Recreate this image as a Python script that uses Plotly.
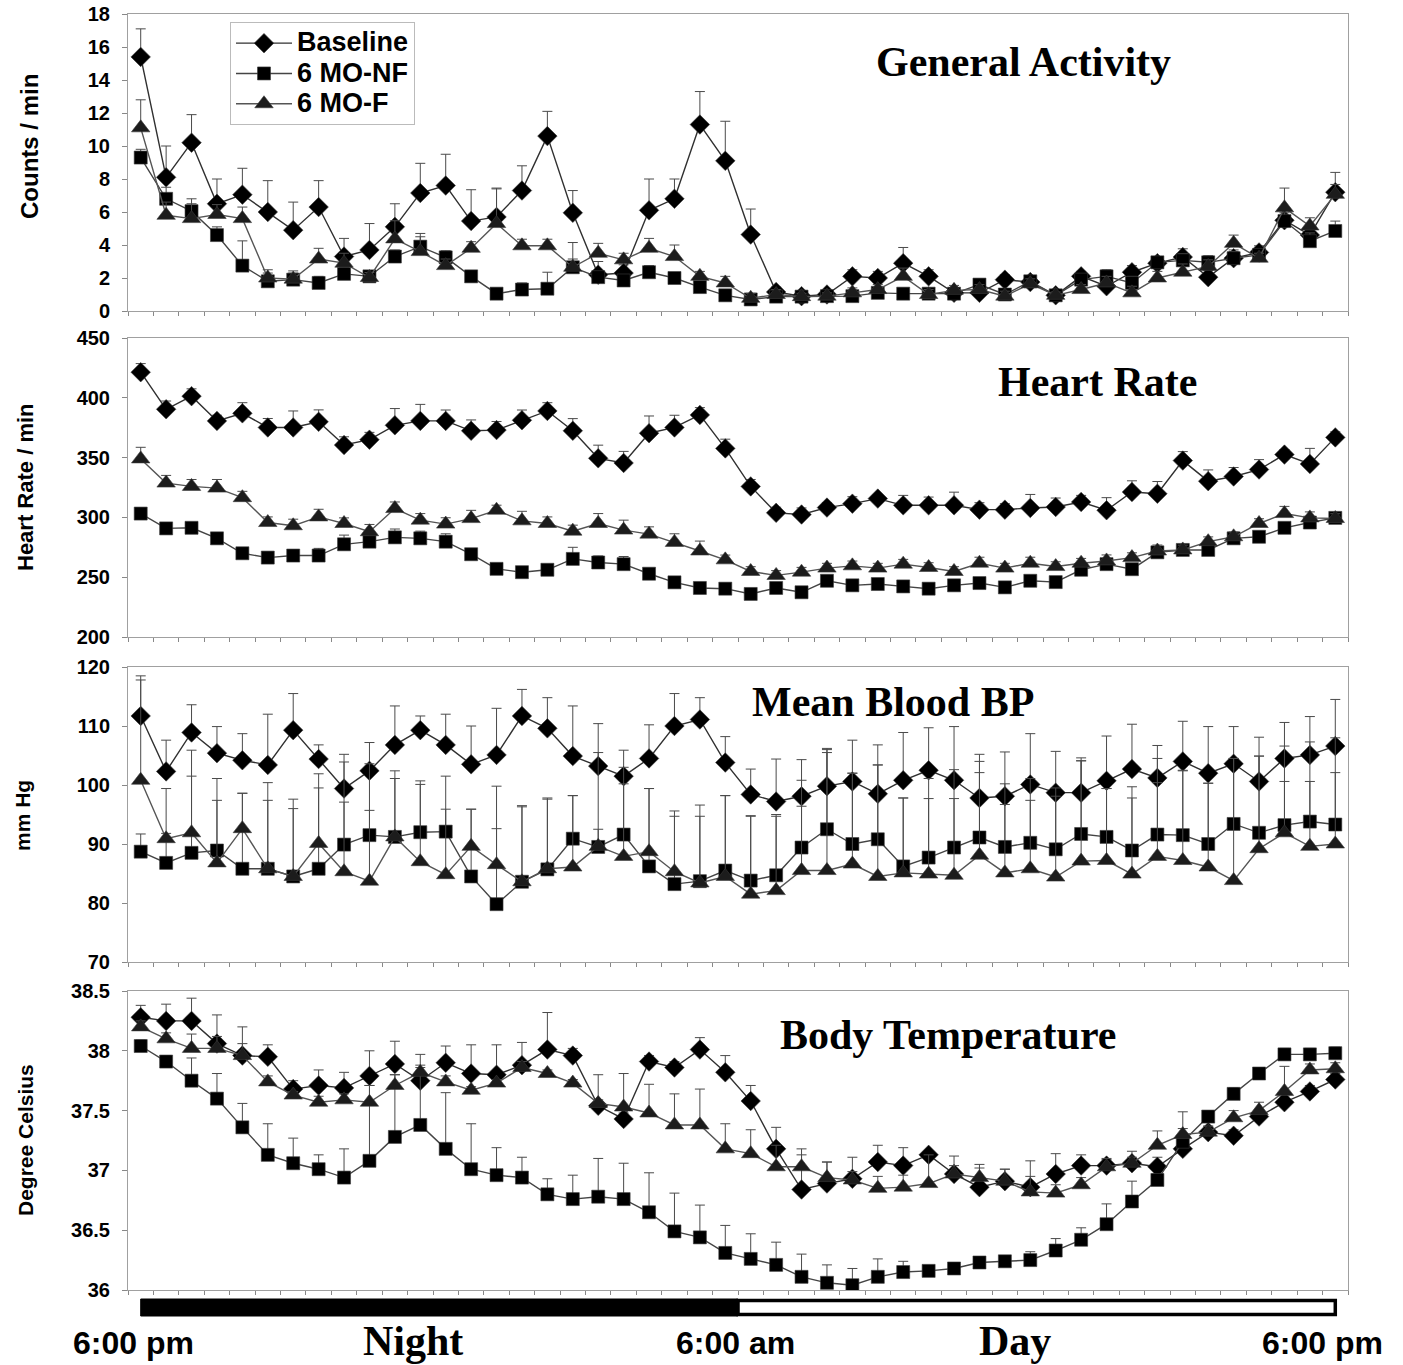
import plotly.graph_objects as go

# ---------------- data (48 half-hour samples, 6:00 pm -> 6:00 pm) ----------------
series_names = ["Baseline", "6 MO-NF", "6 MO-F"]
slot_index = list(range(48))

ga_base = [15.4, 8.1, 10.2, 6.5, 7.05, 6.0, 4.9, 6.3, 3.3, 3.7, 5.1, 7.15, 7.6, 5.45, 5.7, 7.3,
           10.6, 5.95, 2.2, 2.3, 6.1, 6.8, 11.3, 9.1, 4.63, 1.15, 0.9, 1.0, 2.1, 2.0, 2.9, 2.1,
           1.1, 1.1, 1.9, 1.75, 0.95, 2.1, 1.5, 2.35, 2.9, 3.27, 2.05, 3.2, 3.55, 5.5, 4.6, 7.2]
ga_base_err = [1.7, 1.9, 1.7, 1.5, 1.6, 1.9, 1.7, 1.6, 1.1, 1.6, 1.4, 1.8, 1.9, 1.9, 1.75, 1.5,
               1.5, 1.35, 0.8, 0.5, 1.9, 1.2, 2.0, 2.4, 1.55, 0.3, 0.2, 0.2, 0.4, 0.4, 0.95, 0.4,
               0.3, 0.3, 0.3, 0.2, 0.2, 0.3, 0.4, 0.4, 0.3, 0.5, 0.4, 0.5, 0.4, 0.6, 0.6, 1.2]
ga_nf = [9.3, 6.8, 6.05, 4.6, 2.75, 1.8, 1.9, 1.7, 2.25, 2.1, 3.3, 3.9, 3.25, 2.1, 1.05, 1.3,
         1.35, 2.65, 2.05, 1.85, 2.35, 2.0, 1.45, 0.95, 0.7, 0.87, 0.87, 0.9, 0.9, 1.1, 1.05, 1.05,
         1.05, 1.6, 1.0, 1.8, 0.95, 1.9, 2.1, 1.7, 2.95, 3.07, 2.95, 3.2, 3.4, 5.45, 4.23, 4.85]
ga_nf_err = [0.5, 0.7, 0.75, 0.5, 1.5, 0.5, 0.4, 0.4, 0.4, 0.3, 0.4, 0.8, 0.4, 0.3, 0.3, 0.4,
             1.0, 0.5, 0.3, 0.3, 0.4, 0.3, 0.3, 0.3, 0.2, 0.2, 0.2, 0.2, 0.2, 0.2, 0.2, 0.2,
             0.2, 0.3, 0.2, 0.3, 0.2, 0.3, 0.4, 0.4, 0.3, 0.4, 0.4, 0.4, 0.3, 0.5, 0.5, 0.6]
ga_f = [11.1, 5.8, 5.6, 5.85, 5.6, 2.0, 1.93, 3.15, 2.9, 2.03, 4.37, 3.6, 2.75, 3.8, 5.3, 3.95,
        3.95, 2.65, 3.5, 3.1, 3.8, 3.3, 2.1, 1.7, 0.77, 1.0, 0.87, 0.9, 1.1, 1.3, 2.1, 1.0,
        1.25, 1.3, 0.9, 1.65, 0.95, 1.3, 1.7, 1.1, 2.0, 2.35, 2.7, 4.1, 3.2, 6.25, 5.15, 7.07]
ga_f_err = [1.7, 0.8, 0.9, 0.6, 0.7, 0.5, 0.5, 0.65, 0.6, 0.3, 1.1, 0.9, 0.4, 0.4, 2.1, 0.4,
            0.4, 1.5, 0.6, 0.4, 0.6, 0.7, 0.3, 0.4, 0.3, 0.3, 0.2, 0.2, 0.3, 0.3, 0.5, 0.3,
            0.3, 0.3, 0.3, 0.3, 0.2, 0.3, 0.4, 0.4, 0.4, 0.5, 0.4, 0.5, 0.3, 1.2, 0.5, 0.6]

hr_base = [421.4, 390.4, 401.4, 380.7, 387, 375.2, 375.2, 379.9, 360.5, 365, 377, 380.7, 380.7,
           372.4, 373, 381.2, 389, 372.4, 349.4, 345.5, 370.4, 375.2, 385.7, 357.7, 325.9, 303.8,
           302.4, 308.2, 311.5, 315.7, 310.1, 310.1, 310.1, 306.5, 306.5, 307.9, 308.7, 312.9,
           306, 321.2, 319.8, 347.5, 330.3, 334.2, 340, 352.5, 344.7, 366.9]
hr_base_err = [7.2, 6.9, 6.1, 4.7, 8.9, 7.5, 13.8, 10, 6.9, 6.1, 14, 13.8, 9.1, 9.1, 7.2, 8.6,
               6.9, 10.2, 11, 9.7, 14.4, 10.2, 6.1, 7.7, 5.8, 4.7, 5.5, 4.2, 5.8, 3.3, 8.3, 6.9,
               11, 5.8, 5, 11.3, 7.5, 5.5, 10.5, 9.4, 10.2, 7.5, 9.4, 7.5, 8.3, 4.2, 13, 4.7]
hr_nf = [303.2, 290.8, 291.3, 282.5, 270, 266.4, 268.1, 268.1, 277.5, 279.7, 283.3, 282.5, 279.7,
         269.2, 257, 254.2, 256.2, 265.3, 262.3, 260.9, 252.9, 245.7, 241, 240.4, 236, 241,
         237.4, 247, 243.2, 244.3, 242.3, 240.4, 243.2, 245.1, 241.5, 247, 245.9, 256.2, 260.9,
         256.7, 270.8, 272.8, 272.8, 282.5, 283.8, 291.3, 295.7, 299.6]
hr_nf_err = [2, 2, 2, 2, 2, 2, 2, 6, 7.7, 6, 7, 6, 6.6, 2, 2, 2, 2, 9.7, 5.5, 6.4, 2, 2, 2, 2,
             2, 3, 2, 3, 2, 2, 2, 2, 2, 2, 2, 2, 2, 2, 3, 3, 3, 3, 3, 2, 3, 3, 3, 3]
hr_f = [348.9, 328.7, 325.9, 324.5, 316.5, 295.7, 293, 300.4, 294.9, 288, 307.4, 297.7, 294.4,
        299, 306, 297.1, 294.9, 288.5, 294.9, 289.4, 286, 279.1, 271.9, 264.5, 254.8, 251.5,
        254.2, 257.6, 259.5, 257.6, 260.9, 258.1, 254.8, 261.7, 257.6, 261.7, 258.9, 261.7,
        263.6, 266.4, 271.9, 272.8, 279.7, 283.8, 294.9, 303.2, 299.6, 299.1]
hr_f_err = [9.7, 6.4, 5.8, 7.2, 5.3, 4.7, 5.5, 6.4, 4.7, 6.1, 5.5, 5.5, 5.3, 6.9, 4.2, 8, 5.5,
            5, 8.3, 8.3, 6.1, 7.2, 8.3, 4, 4, 4, 4, 4, 4, 4, 4, 4, 4, 5, 4, 5, 4, 4, 5, 4, 5, 4,
            4, 4, 4, 6, 5, 4]

bp_base = [111.7, 102.3, 108.9, 105.4, 104.2, 103.4, 109.3, 104.4, 99.4, 102.4, 106.8, 109.3,
           106.8, 103.5, 105.1, 111.7, 109.6, 104.9, 103.2, 101.5, 104.5, 110, 111.1, 103.8, 98.4,
           97.2, 98.1, 99.8, 100.6, 98.5, 100.8, 102.5, 100.8, 97.8, 98.1, 100.1, 98.7, 98.7,
           100.7, 102.7, 101.2, 104, 102, 103.6, 100.6, 104.5, 105.1, 106.6]
bp_base_err = [6.8, 5.3, 4.7, 4.5, 4.5, 8.6, 6.2, 2.4, 5.8, 4.8, 6.6, 2.4, 5.2, 6.5, 7.9, 4.5,
               5.2, 8.5, 7.2, 4.4, 5.7, 5.5, 3.7, 4.4, 4.3, 7.2, 6.2, 6.4, 7, 8.3, 8.1, 7.2, 9.1,
               7.4, 7.5, 8.6, 7, 5.9, 7.6, 7.6, 5.5, 6.8, 7.9, 6.3, 7.5, 6.1, 6.5, 7.9]
bp_nf = [88.7, 86.8, 88.5, 88.9, 85.8, 85.8, 84.5, 85.8, 89.9, 91.5, 91.2, 92, 92.1, 84.5, 79.8,
         83.6, 85.7, 90.9, 89.5, 91.6, 86.2, 83.2, 83.7, 85.5, 83.8, 84.7, 89.4, 92.5, 90, 90.8,
         86.2, 87.7, 89.4, 91.1, 89.5, 90.2, 89.1, 91.7, 91.2, 88.9, 91.6, 91.5, 90, 93.4, 91.9,
         93.2, 93.8, 93.3]
bp_nf_err = [3, 5, 13, 8.5, 12.8, 11.6, 11.5, 13.7, 7.2, 4.2, 9.9, 8.1, 3.8, 11.4, 12.8, 12.7,
             11.9, 7.3, 3, 8.6, 13.2, 11.5, 11, 12.7, 11, 10, 7, 13, 12, 12.6, 11.6, 10, 8.3, 11,
             7.2, 7.2, 9, 12.4, 8.2, 8.9, 8.8, 11, 10.3, 11.1, 13, 7.4, 6.8, 8.8]
bp_f = [100.8, 90.9, 91.9, 86.8, 92.6, 85.8, 84.5, 90.1, 85.3, 83.7, 91.2, 87, 84.8, 89.6, 86.5,
        83.6, 85.8, 86.1, 89.6, 87.9, 88.7, 85.3, 83.4, 84.5, 81.5, 82.1, 85.5, 85.5, 86.6, 84.5,
        85.1, 84.9, 84.7, 88.1, 85.1, 85.8, 84.4, 87.1, 87.2, 84.9, 87.9, 87.2, 86.1, 83.8, 89.2,
        91.9, 89.6, 90]
bp_f_err = [17, 8.5, 14, 14.3, 6, 14.6, 13.1, 11.8, 18.6, 19.9, 11.2, 13.7, 16.7, 6.3, 13.3,
            12.9, 12, 12.1, 15.9, 15.1, 10.7, 10.3, 13.2, 13.7, 13.2, 12.9, 15.3, 20.5, 15.4,
            18.9, 12.7, 16.2, 17.9, 15.9, 15.1, 15.3, 15.1, 17, 12.2, 14.8, 16.6, 15.2, 14.2,
            20.7, 15.7, 14.7, 17.7, 18]

bt_base = [38.28, 38.25, 38.25, 38.06, 37.96, 37.95, 37.68, 37.71, 37.69, 37.79, 37.89, 37.75,
           37.9, 37.81, 37.8, 37.88, 38.01, 37.96, 37.54, 37.43, 37.91, 37.86, 38.01, 37.82, 37.58,
           37.18, 36.84, 36.89, 36.93, 37.07, 37.04, 37.13, 36.97, 36.86, 36.91, 36.86, 36.97,
           37.04, 37.04, 37.06, 37.03, 37.18, 37.32, 37.29, 37.45, 37.57, 37.66, 37.76]
bt_base_err = [0.1, 0.14, 0.19, 0.24, 0.24, 0.1, 0.07, 0.13, 0.13, 0.21, 0.19, 0.22, 0.14, 0.24,
               0.25, 0.19, 0.31, 0.06, 0.05, 0.05, 0.05, 0.05, 0.1, 0.14, 0.13, 0.18, 0.34, 0.18,
               0.18, 0.14, 0.15, 0.02, 0.15, 0.19, 0.1, 0.22, 0.17, 0.09, 0.05, 0.1, 0.08, 0.31,
               0.05, 0.05, 0.05, 0.05, 0.05, 0.05]
bt_nf = [38.04, 37.91, 37.75, 37.6, 37.36, 37.13, 37.06, 37.01, 36.94, 37.08, 37.28, 37.38, 37.18,
         37.01, 36.96, 36.94, 36.8, 36.76, 36.78, 36.76, 36.65, 36.49, 36.44, 36.31, 36.26, 36.21,
         36.11, 36.06, 36.04, 36.11, 36.15, 36.16, 36.18, 36.23, 36.24, 36.25, 36.33, 36.42,
         36.55, 36.74, 36.92, 37.24, 37.45, 37.64, 37.81, 37.97, 37.97, 37.98]
bt_nf_err = [0.05, 0.05, 0.19, 0.21, 0.2, 0.26, 0.21, 0.12, 0.24, 0.63, 0.52, 0.48, 0.47, 0.38,
             0.23, 0.17, 0.13, 0.2, 0.32, 0.3, 0.33, 0.32, 0.27, 0.23, 0.21, 0.19, 0.19, 0.15,
             0.14, 0.15, 0.09, 0.03, 0.03, 0.03, 0.03, 0.07, 0.1, 0.1, 0.17, 0.17, 0.05, 0.05,
             0.05, 0.05, 0.05, 0.05, 0.05, 0.05]
bt_f = [38.2, 38.1, 38.02, 38.02, 37.96, 37.74, 37.63, 37.57, 37.59, 37.57, 37.71, 37.82, 37.74,
        37.67, 37.73, 37.86, 37.81, 37.73, 37.56, 37.53, 37.48, 37.38, 37.38, 37.18, 37.14, 37.03,
        37.03, 36.94, 36.92, 36.85, 36.86, 36.89, 36.97, 36.94, 36.91, 36.82, 36.81, 36.88,
        37.03, 37.06, 37.21, 37.3, 37.32, 37.44, 37.5, 37.66, 37.84, 37.85]
bt_f_err = [0.05, 0.05, 0.12, 0.1, 0.1, 0.05, 0.03, 0.05, 0.05, 0.14, 0.09, 0.06, 0.05, 0.03,
            0.03, 0.05, 0.03, 0.03, 0.24, 0.28, 0.24, 0.26, 0.3, 0.21, 0.2, 0.18, 0.1, 0.13, 0.07,
            0.1, 0.1, 0.24, 0.07, 0.08, 0.1, 0.13, 0.07, 0.06, 0.07, 0.05, 0.12, 0.05, 0.05, 0.06,
            0.07, 0.21, 0.05, 0.05]

panel_titles = ["General Activity", "Heart Rate", "Mean Blood BP", "Body Temperature"]
y_titles = ["Counts / min", "Heart Rate / min", "mm Hg", "Degree Celsius"]
y_ranges = [[0, 18], [200, 450], [70, 120], [36, 38.5]]
y_dticks = [2, 50, 10, 0.5]
time_labels = ["6:00 pm", "6:00 am", "6:00 pm"]
period_labels = ["Night", "Day"]

panels = [
    (ga_base, ga_base_err, ga_nf, ga_nf_err, ga_f, ga_f_err),
    (hr_base, hr_base_err, hr_nf, hr_nf_err, hr_f, hr_f_err),
    (bp_base, bp_base_err, bp_nf, bp_nf_err, bp_f, bp_f_err),
    (bt_base, bt_base_err, bt_nf, bt_nf_err, bt_f, bt_f_err),
]

# ---------------- styling ----------------
W, H = 1403, 1365
ML, MR, MT, MB = 128, 55, 14, 75
PW, PH = W - ML - MR, H - MT - MB
panel_px = [(14, 311), (338, 637), (667, 962), (991, 1290)]


def py(px):
    return (H - MB - px) / PH


def pxx(px):
    return (px - ML) / PW


styles = [
    dict(symbol="diamond", size=15, color="#000000", line="#303030"),
    dict(symbol="square", size=13, color="#000000", line="#444444"),
    dict(symbol="triangle-up", size=16, color="#1c1c1c", line="#555555"),
]

fig = go.Figure()
for p, data in enumerate(panels):
    xa = "x" if p == 0 else f"x{p+1}"
    ya = "y" if p == 0 else f"y{p+1}"
    vals = [(data[0], data[1]), (data[2], data[3]), (data[4], data[5])]
    for s, (v, e) in enumerate(vals):
        st = styles[s]
        fig.add_trace(go.Scatter(
            x=slot_index, y=v, xaxis=xa, yaxis=ya,
            mode="lines+markers",
            name=f"<span style='font-size:27px'>{series_names[s]}</span>",
            showlegend=(p == 0), legendgroup=series_names[s],
            line=dict(color=st["line"], width=1.4),
            marker=dict(symbol=st["symbol"], size=st["size"], color=st["color"],
                        line=dict(color="#3a3a3a", width=0.6)),
            error_y=dict(type="data", symmetric=False, array=e, arrayminus=[0] * len(e),
                         color="#4a4a4a", thickness=1, width=5),
        ))

layout = dict(
    width=W, height=H, margin=dict(l=ML, r=MR, t=MT, b=MB, autoexpand=False),
    paper_bgcolor="white", plot_bgcolor="white",
    font=dict(family="Liberation Sans, Arial, sans-serif", color="black"),
    legend=dict(
        x=pxx(230), y=py(22), xanchor="left", yanchor="top",
        bgcolor="white", bordercolor="#bbbbbb", borderwidth=1,
        font=dict(family="Liberation Sans, Arial, sans-serif", size=21, color="black", weight="bold"),
        tracegroupgap=0, itemwidth=56, entrywidth=236, entrywidthmode="pixels",
    ),
)

tickvals_x = [i - 0.5 for i in range(49)]
for p in range(4):
    top, bot = panel_px[p]
    xk = "xaxis" if p == 0 else f"xaxis{p+1}"
    yk = "yaxis" if p == 0 else f"yaxis{p+1}"
    ya = "y" if p == 0 else f"y{p+1}"
    xa = "x" if p == 0 else f"x{p+1}"
    layout[xk] = dict(
        domain=[0, 1], anchor=ya, range=[-0.5, 47.5], tickvals=tickvals_x,
        showticklabels=False, ticks="outside", ticklen=4, tickcolor="#888888",
        showline=True, linecolor="#a0a0a0", linewidth=1, mirror=True,
        showgrid=False, zeroline=False, automargin=False,
    )
    lo, hi = y_ranges[p]
    layout[yk] = dict(
        domain=[py(bot), py(top)], anchor=xa, range=[lo, hi], dtick=y_dticks[p], tick0=lo,
        ticks="outside", ticklen=5, tickcolor="#888888",
        showline=True, linecolor="#a0a0a0", linewidth=1, mirror=True,
        showgrid=False, zeroline=False, ticklabelstandoff=8, automargin=False,
        tickfont=dict(family="Liberation Sans, Arial, sans-serif", size=20, color="black", weight="bold"),
    )

fig.update_layout(**layout)

title_pos = [(1023, 62), (1097, 382), (893, 702), (948, 1035)]
for t, (cx, cy) in zip(panel_titles, title_pos):
    fig.add_annotation(text=t, xref="paper", yref="paper", x=pxx(cx), y=py(cy),
                       xanchor="center", yanchor="middle", showarrow=False,
                       font=dict(family="Liberation Serif, Times New Roman, serif", size=42,
                                 color="black", weight="bold"))

ytitle_pos = [(30, 147, 24, "Liberation Sans"), (25, 487, 22, "Liberation Sans Narrow, Liberation Sans"),
              (22, 816, 21, "Liberation Sans Narrow, Liberation Sans"), (25, 1140, 21, "Liberation Sans")]
for t, (cx, cy, fs, fam) in zip(y_titles, ytitle_pos):
    fig.add_annotation(text=t, xref="paper", yref="paper", x=pxx(cx), y=py(cy),
                       xanchor="center", yanchor="middle", showarrow=False, textangle=-90,
                       font=dict(family=fam, size=fs, color="black", weight="bold"))

night_end = (slot_index[0] + slot_index[-1]) / 2
fig.add_shape(type="rect", xref="x4", yref="paper", x0=slot_index[0], x1=night_end,
              y0=py(1316), y1=py(1299), fillcolor="black", line=dict(color="black", width=1))
fig.add_shape(type="rect", xref="x4", yref="paper", x0=night_end, x1=slot_index[-1],
              y0=py(1314.5), y1=py(1300.5), fillcolor="white", line=dict(color="black", width=3.5))

label_x = [-0.3, 23.4, 46.5]
for t, lx in zip(time_labels, label_x):
    fig.add_annotation(text=t, xref="x4", yref="paper", x=lx, y=py(1343),
                       xanchor="center", yanchor="middle", showarrow=False,
                       font=dict(family="Liberation Sans, Arial, sans-serif", size=32,
                                 color="black", weight="bold"))
for t, lx in zip(period_labels, [10.7, 34.4]):
    fig.add_annotation(text=t, xref="x4", yref="paper", x=lx, y=py(1341),
                       xanchor="center", yanchor="middle", showarrow=False,
                       font=dict(family="Liberation Serif, Times New Roman, serif", size=42,
                                 color="black", weight="bold"))

fig.write_html(
    "out.html",
    config={"displayModeBar": False},
    post_script="document.documentElement.style.margin='0';document.body.style.margin='0';"
                "document.body.style.overflow='hidden';",
)
